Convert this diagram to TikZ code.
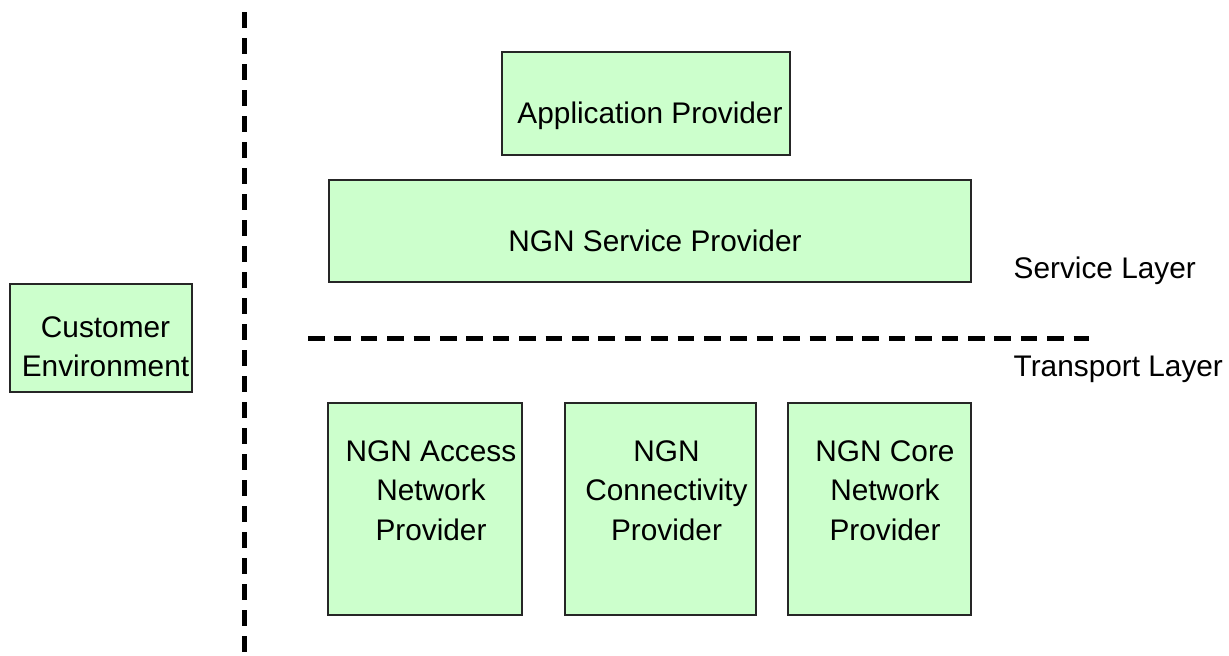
\documentclass[tikz,border=0pt]{standalone}
\usepackage{fontspec}
\setmainfont{Liberation Sans}
\definecolor{boxfill}{HTML}{CCFFCC}
\tikzset{
  provbox/.style={rectangle, draw=black!85, line width=1.1pt, fill=boxfill, inner sep=0pt},
  provtext/.style={anchor=north, inner sep=0pt, align=center,
                   font=\fontsize{29.8}{39.8}\selectfont},
  layertext/.style={anchor=north west, inner sep=0pt,
                    font=\fontsize{29.8}{39.8}\selectfont},
  vrule/.style={line width=5pt, dash pattern=on 15.5pt off 10.5pt},
  hrule/.style={line width=5pt, dash pattern=on 16.5pt off 9.9pt},
}
\begin{document}
\begin{tikzpicture}[x=1pt, y=-1pt]
  \useasboundingbox (0,0) rectangle (1229,656);

  % boundary between customer and provider domains
  \coordinate (vtop) at (244.8,12);
  \coordinate (vbot) at (244.8,656);
  \draw[vrule] (vtop) -- (vbot);

  % boundary between service and transport layers
  \coordinate (hleft) at (308,338);
  \coordinate (hright) at (1089,338);
  \draw[hrule] (hleft) -- (hright);

  % provider boxes
  \node[provbox, minimum width=182pt, minimum height=108pt] (cust) at (101,338) {};
  \node[provbox, minimum width=288pt, minimum height=103pt] (app)  at (646,103.5) {};
  \node[provbox, minimum width=642pt, minimum height=102pt] (svc)  at (650,231) {};
  \node[provbox, minimum width=194pt, minimum height=212pt] (acc)  at (425,509) {};
  \node[provbox, minimum width=191pt, minimum height=212pt] (conn) at (660.5,509) {};
  \node[provbox, minimum width=183pt, minimum height=212pt] (core) at (879.5,509) {};

  % box captions
  \node[provtext] (custtxt) at (105.5,316)  {Customer\\Environment};
  \node[provtext] (apptxt)  at (650,102)    {Application Provider};
  \node[provtext] (svctxt)  at (655,230)    {NGN Service Provider};
  \node[provtext] (acctxt)  at (431,440)    {NGN Access\\Network\\Provider};
  \node[provtext] (conntxt) at (666.5,440)  {NGN\\Connectivity\\Provider};
  \node[provtext] (coretxt) at (885,440)    {NGN Core\\Network\\Provider};

  % layer names
  \node[layertext] (svclayer)   at (1013.5,257) {Service Layer};
  \node[layertext] (translayer) at (1013.5,356) {Transport Layer};
\end{tikzpicture}
\end{document}
